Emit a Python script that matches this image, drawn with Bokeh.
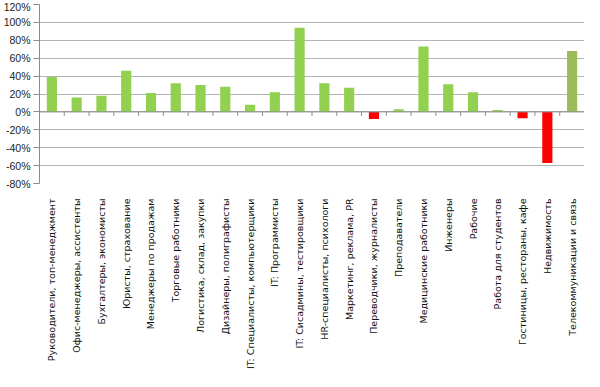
from bokeh.plotting import figure
from bokeh.models import FactorRange, Range1d, NumeralTickFormatter, FixedTicker, Span, ColumnDataSource
from bokeh.transform import dodge
from bokeh.embed import file_html
from bokeh.resources import INLINE
import math

categories = [
    "Руководители, топ-менеджмент",
    "Офис-менеджеры, ассистенты",
    "Бухгалтеры, экономисты",
    "Юристы, страхование",
    "Менеджеры по продажам",
    "Торговые работники",
    "Логистика, склад, закупки",
    "Дизайнеры, полиграфисты",
    "IT: Специалисты, компьютерщики",
    "IT: Программисты",
    "IT: Сисадмины, тестировщики",
    "HR-специалисты, психологи",
    "Маркетинг, реклама, PR",
    "Переводчики, журналисты",
    "Преподаватели",
    "Медицинские работники",
    "Инженеры",
    "Рабочие",
    "Работа для студентов",
    "Гостиницы, рестораны, кафе",
    "Недвижимость",
    "Телекоммуникации и связь",
]
values = [0.39, 0.16, 0.18, 0.46, 0.21, 0.32, 0.30, 0.28, 0.08, 0.22, 0.94,
          0.32, 0.27, -0.08, 0.03, 0.73, 0.31, 0.22, 0.02, -0.07, -0.57, 0.68]
y_ticks = [-0.8, -0.6, -0.4, -0.2, 0.0, 0.2, 0.4, 0.6, 0.8, 1.0, 1.2]
highlight = "Телекоммуникации и связь"

GREEN = "#92D050"
RED = "#FF0000"
OLIVE = "#9BBB59"
colors = [OLIVE if c == highlight else (RED if v < 0 else GREEN) for c, v in zip(categories, values)]

src = ColumnDataSource(dict(cat=categories, val=values, color=colors,
                            zero=[0.0] * len(categories), tick=[-0.045] * len(categories)))

p = figure(width=584, height=371, output_backend="svg", toolbar_location=None,
           x_range=FactorRange(*categories), y_range=Range1d(y_ticks[0], y_ticks[-1]),
           min_border_left=36, min_border_right=0, min_border_top=4, min_border_bottom=150)

p.vbar(x="cat", top="val", bottom=0, width=0.41, color="color", line_color=None, source=src)

# zero (category) axis line with boundary ticks
p.add_layout(Span(location=0, dimension="width", line_color="#8C8C8C", line_width=1))
p.segment(x0=dodge("cat", 0.5, range=p.x_range), y0="zero",
          x1=dodge("cat", 0.5, range=p.x_range), y1="tick",
          source=src, line_color="#8C8C8C", line_width=1)

p.outline_line_color = None
p.xgrid.grid_line_color = None
p.ygrid.grid_line_color = "#B4B4B4"
p.ygrid.ticker = FixedTicker(ticks=y_ticks)

p.yaxis.ticker = FixedTicker(ticks=y_ticks)
p.yaxis.formatter = NumeralTickFormatter(format="0%")
p.yaxis.axis_line_color = "#8C8C8C"
p.yaxis.major_tick_line_color = "#8C8C8C"
p.yaxis.major_tick_out = 6
p.yaxis.major_tick_in = 0
p.yaxis.minor_tick_line_color = None
p.yaxis.major_label_standoff = 3
p.yaxis.major_label_text_font = "Liberation Sans"
p.yaxis.major_label_text_font_size = "10.5px"
p.yaxis.major_label_text_color = "#222222"

p.xaxis.axis_line_color = None
p.xaxis.major_tick_line_color = None
p.xaxis.minor_tick_line_color = None
p.xaxis.major_label_orientation = math.pi / 2
p.xaxis.major_label_standoff = 9
p.xaxis.major_label_text_font = "DejaVu Sans"
p.xaxis.major_label_text_font_size = "9.5px"
p.xaxis.major_label_text_color = "#111111"

open("out.html", "w").write(file_html(p, INLINE))
